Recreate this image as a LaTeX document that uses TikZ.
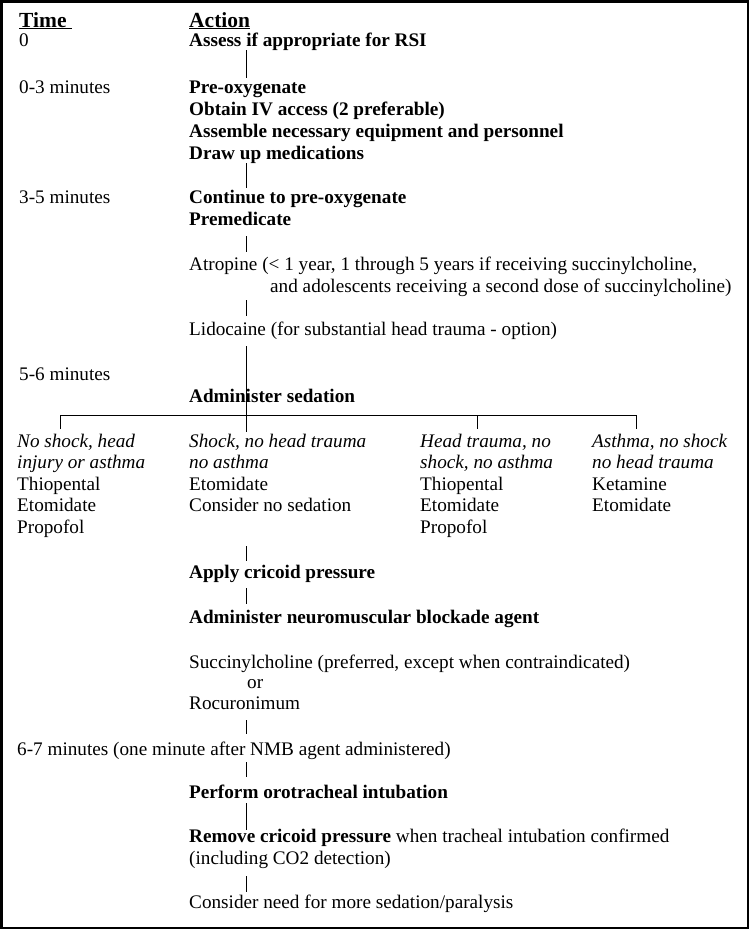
\documentclass[tikz,border=0pt]{standalone}
\usepackage{fontspec}
\setmainfont{Liberation Serif}

\begin{document}
\begin{tikzpicture}[x=1pt, y=-1pt,
    txt/.style={anchor=base west, inner sep=0pt, font=\fontsize{19.2}{21.6}\selectfont},
    act/.style={txt, font=\fontsize{19.2}{21.6}\selectfont\bfseries},
    head/.style={txt, font=\fontsize{21.5}{24}\selectfont\bfseries},
    cond/.style={txt, align=left},
    link/.style={line width=1pt}
]
\useasboundingbox (0,0) rectangle (749,929);

% Frame
\draw[line width=2.5pt] (1.25,1.25) rectangle (747.75,927.75);

% Headings
\node[head] (time)   at (19,27)  {\underline{Time\ }};
\node[head] (action) at (189,27) {\underline{Action}};

% Time column
\node[txt] (t0)  at (19,46)  {0};
\node[txt] (t03) at (19,93)  {0-3 minutes};
\node[txt] (t35) at (19,203) {3-5 minutes};
\node[txt] (t56) at (19,380) {5-6 minutes};
\node[txt] (t67) at (17,755) {6-7 minutes (one minute after NMB agent administered)};

% Action column
\node[act] (assess)   at (189,46)  {Assess if appropriate for RSI};
\node[act] (preox)    at (189,93)  {Pre-oxygenate};
\node[act] (ivaccess) at (189,115) {Obtain IV access (2 preferable)};
\node[act] (equip)    at (189,137) {Assemble necessary equipment and personnel};
\node[act] (meds)     at (189,159) {Draw up medications};
\node[act] (contox)   at (189,203) {Continue to pre-oxygenate};
\node[act] (premed)   at (189,225) {Premedicate};
\node[txt] (atropine) at (189,270) {Atropine (< 1 year, 1 through 5 years if receiving succinylcholine,};
\node[txt] (atropin2) at (270,292) {and adolescents receiving a second dose of succinylcholine)};
\node[txt] (lido)     at (189,335) {Lidocaine (for substantial head trauma - option)};
\node[act] (sedation) at (189,402) {Administer sedation};

% Sedation choices (base = last line)
\node[cond] (nos) at (17,533.4)  {\textit{No shock, head}\\\textit{injury or asthma}\\Thiopental\\Etomidate\\Propofol};
\node[cond] (shk) at (189,511.8) {\textit{Shock, no head trauma}\\\textit{no asthma}\\Etomidate\\Consider no sedation};
\node[cond] (hdt) at (420,533.4) {\textit{Head trauma, no}\\\textit{shock, no asthma}\\Thiopental\\Etomidate\\Propofol};
\node[cond] (ast) at (592,511.8) {\textit{Asthma, no shock}\\\textit{no head trauma}\\Ketamine\\Etomidate};

\node[act] (cricoid)  at (189,578) {Apply cricoid pressure};
\node[act] (nmb)      at (189,623) {Administer neuromuscular blockade agent};
\node[txt] (succ)     at (189,668) {Succinylcholine (preferred, except when contraindicated)};
\node[txt] (or)       at (247,688) {or};
\node[txt] (rocu)     at (189,709) {Rocuronimum};
\node[act] (intub)    at (189,798) {Perform orotracheal intubation};
\node[txt] (remove)   at (189,842) {\textbf{Remove cricoid pressure} when tracheal intubation confirmed};
\node[txt] (coco)     at (189,864) {(including CO2 detection)};
\node[txt] (more)     at (189,908) {Consider need for more sedation/paralysis};

% Spine links
\foreach \a/\b in {50/78, 163/188, 236/252, 300/316, 346/432, 546/561,
                   588/604, 720/734, 762/777, 803/830, 876/892}
    \draw[link] (246.5,\a) -- (246.5,\b);

% Branch bracket
\coordinate (bl) at (60,415);
\coordinate (br) at (636,415);
\draw[link] (60,429) -- (bl) -- (br) -- (636,429);
\draw[link] (477,415) -- (477,429);

\end{tikzpicture}
\end{document}
